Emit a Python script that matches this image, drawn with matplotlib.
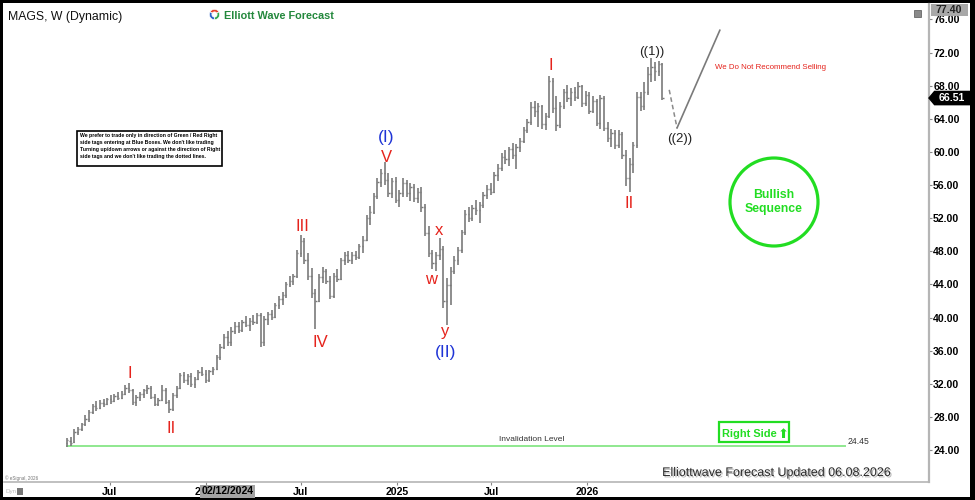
import numpy as np
import pandas as pd
import matplotlib
matplotlib.use('Agg')
import matplotlib.pyplot as plt
import matplotlib.dates as mdates
from matplotlib.patches import Rectangle, Ellipse, Polygon
import matplotlib.patheffects as pe

plt.rcParams['font.family'] = ['Liberation Sans', 'DejaVu Sans']

# ---------------- data ----------------
start_week = '2023-04-10'
opens = [24.8, 25.1, 25.0, 26.2, 26.5, 27.1, 27.8, 28.6, 29.3, 29.1,
         29.7, 29.6, 30.1, 29.9, 30.5, 30.3, 30.8, 31.5, 31.2, 29.8,
         30.4, 30.7, 31.2, 31.5, 30.4, 29.6, 30.0, 31.2, 29.8, 28.9,
         30.6, 31.5, 33.0, 32.5, 32.9, 32.0, 32.6, 33.4, 33.2, 32.4,
         33.5, 33.8, 35.2, 36.4, 37.6, 37.0, 38.4, 39.0, 38.5, 39.4,
         39.1, 39.6, 39.4, 40.3, 37.0, 39.8, 40.4, 40.1, 41.5, 42.2,
         42.7, 44.0, 44.4, 45.0, 47.8, 49.2, 47.0, 45.0, 42.9, 42.0,
         44.9, 45.6, 44.4, 42.6, 45.0, 44.7, 46.9, 47.5, 47.0, 47.6,
         47.3, 48.6, 49.4, 52.0, 52.8, 54.7, 56.4, 57.4, 56.6, 55.1,
         56.5, 54.2, 55.0, 56.3, 55.0, 55.8, 54.4, 55.2, 53.4, 50.2,
         47.8, 46.6, 47.5, 48.3, 42.0, 43.9, 45.6, 46.9, 48.1, 50.3,
         52.5, 52.0, 53.2, 53.0, 53.6, 54.8, 55.5, 55.2, 57.2, 58.1,
         59.4, 59.1, 60.3, 59.6, 60.6, 61.3, 62.7, 63.6, 65.4, 65.0,
         65.5, 63.4, 64.3, 68.6, 65.3, 63.2, 65.6, 67.2, 66.5, 67.3,
         66.6, 68.0, 65.9, 66.9, 65.0, 66.2, 63.5, 66.5, 62.9, 61.7,
         62.3, 60.8, 62.2, 59.6, 56.8, 58.6, 60.8, 66.6, 65.5, 67.2,
         69.4, 70.2, 69.8, 70.6]
highs = [25.4, 25.6, 26.5, 26.8, 27.3, 28.2, 28.8, 29.6, 29.9, 30.0,
         30.1, 30.3, 30.6, 30.8, 31.0, 31.1, 31.8, 32.1, 31.4, 30.6,
         31.0, 31.4, 31.9, 31.7, 30.7, 30.3, 31.9, 31.5, 30.0, 30.9,
         31.7, 33.3, 33.4, 33.2, 33.3, 32.8, 33.6, 34.0, 33.6, 33.7,
         34.0, 35.5, 36.8, 38.0, 38.4, 38.9, 39.4, 39.5, 39.7, 40.2,
         40.0, 40.3, 40.6, 40.6, 40.2, 40.7, 40.9, 41.8, 42.6, 43.1,
         44.3, 45.0, 45.3, 48.2, 50.0, 49.6, 47.8, 46.0, 43.5, 45.3,
         46.1, 45.9, 45.0, 45.4, 45.8, 47.2, 47.9, 48.0, 47.9, 48.0,
         48.9, 49.8, 52.4, 53.5, 55.1, 56.8, 57.9, 58.8, 57.4, 56.9,
         57.0, 55.4, 56.8, 56.6, 56.2, 56.1, 55.6, 55.8, 53.7, 51.0,
         48.2, 47.9, 49.6, 48.6, 44.8, 46.1, 47.4, 48.5, 50.6, 53.0,
         53.3, 53.6, 54.2, 53.9, 55.2, 56.0, 56.2, 57.6, 58.6, 59.9,
         60.2, 60.6, 61.1, 60.9, 61.7, 63.0, 64.0, 66.0, 66.1, 65.9,
         65.7, 64.7, 69.2, 68.9, 66.8, 66.0, 67.6, 68.1, 67.7, 67.9,
         68.5, 68.1, 67.4, 67.2, 66.8, 66.4, 66.9, 66.7, 63.6, 62.8,
         62.6, 62.7, 62.4, 60.2, 59.3, 61.2, 67.2, 67.3, 68.5, 70.3,
         71.3, 70.9, 71.0, 70.8]
lows = [24.4, 24.5, 24.8, 25.8, 26.3, 26.9, 27.4, 28.4, 28.7, 28.9,
        29.2, 29.4, 29.6, 29.8, 30.0, 30.1, 30.6, 30.9, 29.4, 29.3,
        29.9, 30.3, 30.8, 30.2, 29.3, 29.3, 29.9, 29.6, 28.5, 28.7,
        30.3, 31.4, 32.1, 31.8, 31.6, 31.5, 32.4, 32.9, 32.1, 32.2,
        33.0, 33.6, 34.9, 36.2, 36.6, 36.5, 38.0, 38.1, 38.3, 38.8,
        38.4, 39.1, 39.2, 36.4, 36.6, 39.1, 39.7, 39.9, 41.0, 41.5,
        42.4, 43.7, 43.9, 44.8, 47.3, 46.5, 44.5, 42.4, 38.6, 41.9,
        44.2, 44.0, 42.2, 42.3, 44.3, 44.5, 46.4, 46.6, 46.5, 46.9,
        47.1, 47.8, 49.2, 51.2, 52.5, 54.3, 55.8, 56.0, 54.6, 54.4,
        53.8, 53.4, 54.6, 54.5, 54.1, 53.9, 53.8, 52.8, 49.8, 47.3,
        45.8, 45.6, 46.9, 41.2, 39.1, 41.5, 45.2, 46.4, 47.8, 50.0,
        51.5, 51.6, 52.4, 51.4, 53.2, 54.3, 54.8, 55.0, 56.5, 57.7,
        58.6, 58.3, 59.2, 57.9, 60.0, 61.1, 62.3, 63.3, 64.2, 63.0,
        62.8, 62.7, 64.1, 64.7, 62.5, 62.9, 65.2, 66.0, 65.6, 66.1,
        66.4, 65.4, 65.6, 64.6, 64.7, 63.1, 62.8, 62.5, 61.2, 60.6,
        60.3, 60.5, 59.2, 55.9, 55.2, 57.4, 60.5, 64.9, 65.1, 66.9,
        68.4, 68.6, 69.2, 66.3]
closes = [25.2, 24.9, 26.2, 26.5, 27.1, 27.8, 28.6, 29.3, 29.1, 29.7,
          29.6, 30.1, 29.9, 30.5, 30.3, 30.8, 31.5, 31.2, 29.8, 30.4,
          30.7, 31.2, 31.5, 30.4, 29.6, 30.0, 31.2, 29.8, 28.9, 30.6,
          31.5, 33.0, 32.5, 32.9, 32.0, 32.6, 33.4, 33.2, 32.4, 33.5,
          33.8, 35.2, 36.4, 37.6, 37.0, 38.4, 39.0, 38.5, 39.4, 39.1,
          39.6, 39.4, 40.3, 37.0, 39.8, 40.4, 40.1, 41.5, 42.2, 42.7,
          44.0, 44.4, 45.0, 47.8, 49.2, 47.0, 45.0, 42.9, 42.0, 44.9,
          45.6, 44.4, 42.6, 45.0, 44.7, 46.9, 47.5, 47.0, 47.6, 47.3,
          48.6, 49.4, 52.0, 52.8, 54.7, 56.4, 57.4, 56.6, 55.1, 56.5,
          54.2, 55.0, 56.3, 55.0, 55.8, 54.4, 55.2, 53.4, 50.2, 47.8,
          46.6, 47.5, 48.3, 42.0, 43.9, 45.6, 46.9, 48.1, 50.3, 52.5,
          52.0, 53.2, 53.0, 53.6, 54.8, 55.5, 55.2, 57.2, 58.1, 59.4,
          59.1, 60.3, 59.6, 60.6, 61.3, 62.7, 63.6, 65.4, 65.0, 65.5,
          63.4, 64.3, 68.6, 65.3, 63.2, 65.6, 67.2, 66.5, 67.3, 66.6,
          68.0, 65.9, 66.9, 65.0, 66.2, 63.5, 66.5, 62.9, 61.7, 62.3,
          60.8, 62.2, 59.6, 56.8, 58.6, 60.8, 66.6, 65.5, 67.2, 69.4,
          70.2, 69.8, 70.6, 66.51]

last_price = 66.51
invalidation_level = 24.45
invalidation_span = ['2023-04-10', '2027-05-09']
proj_dashed_dates = ['2026-06-07', '2026-06-22']
proj_dashed_values = [67.5, 62.9]
proj_solid_dates = ['2026-06-22', '2026-09-12']
proj_solid_values = [62.9, 74.7]

ytick_values = [24, 28, 32, 36, 40, 44, 48, 52, 56, 60, 64, 68, 72, 76]
xtick_dates = ['2023-07-01', '2024-01-01', '2024-07-01', '2025-01-01', '2025-07-01', '2026-01-01']
xtick_labels = ['Jul', '2024', 'Jul', '2025', 'Jul', '2026']

# ---------------- figure ----------------
W, H = 975, 500
fig = plt.figure(figsize=(W / 100, H / 100), dpi=100)
fig.patch.set_facecolor('black')

def fx(px):
    return px / W

def fy(py):
    return 1 - py / H

fig.patches.append(Rectangle((fx(3), fy(497)), fx(970) - fx(3), fy(3) - fy(497),
                             transform=fig.transFigure, facecolor='white',
                             edgecolor='none', zorder=-10))

ax = fig.add_axes([fx(4), fy(482), fx(929) - fx(4), fy(4) - fy(482)])
ax.set_facecolor('white')
ax.set_zorder(1)

dates = pd.date_range(start_week, periods=len(closes), freq='7D')
dn = mdates.date2num(dates.to_pydatetime())
bar_color = '#7a7a7a'
tick_len = 2.4
ax.vlines(dn, lows, highs, color=bar_color, lw=1.2, zorder=3)
ax.hlines(opens, dn - tick_len, dn, color=bar_color, lw=1.0, zorder=3)
ax.hlines(closes, dn, dn + tick_len, color=bar_color, lw=1.0, zorder=3)

t0 = mdates.date2num(pd.Timestamp(start_week).to_pydatetime())
ax.set_xlim(t0 - 120.7, t0 + 1651.8)
ax.set_ylim(20.13, 77.87)

# invalidation line
inv_x = mdates.date2num(pd.to_datetime(invalidation_span).to_pydatetime())
ax.plot(inv_x, [invalidation_level, invalidation_level], color='#8fe88f', lw=1.4, zorder=2)

# projections
pdx = mdates.date2num(pd.to_datetime(proj_dashed_dates).to_pydatetime())
psx = mdates.date2num(pd.to_datetime(proj_solid_dates).to_pydatetime())
ax.plot(pdx, proj_dashed_values, color='#8a8a8a', lw=1.1, ls=(0, (3, 2)), zorder=3)
ax.plot(psx, proj_solid_values, color='#7a7a7a', lw=1.2, zorder=3)

# axes styling
for s in ['top', 'left']:
    ax.spines[s].set_visible(False)
ax.spines['right'].set_color('#b5b5b5')
ax.spines['right'].set_linewidth(1.6)
ax.spines['bottom'].set_color('#b5b5b5')
ax.spines['bottom'].set_linewidth(1.2)

ax.yaxis.tick_right()
ax.set_yticks(ytick_values)
ax.set_yticklabels(['%.2f' % v for v in ytick_values], fontsize=7.6, fontweight='bold')
ax.tick_params(axis='y', direction='out', length=2, width=0.8, colors='#888888',
               labelcolor='black', pad=1)
xt = mdates.date2num(pd.to_datetime(xtick_dates).to_pydatetime())
ax.set_xticks(xt)
ax.set_xticklabels(xtick_labels, fontsize=7.6, fontweight='bold')
ax.tick_params(axis='x', direction='out', length=2, width=0.8, colors='#888888',
               labelcolor='black', pad=1.5)

# crosshair date box on x-axis
ax.text(mdates.date2num(pd.Timestamp('2024-02-12').to_pydatetime()), -0.0195,
        '02/12/2024', transform=ax.get_xaxis_transform(), ha='center', va='center',
        fontsize=7.6, fontweight='bold', color='black',
        bbox=dict(boxstyle='square,pad=0.12', fc='#a3a3a3', ec='none'), clip_on=False, zorder=10)

# last price tag
ytr = ax.get_yaxis_transform()
hh = 0.8
tag = Polygon([(1.0, last_price), (1.006, last_price + hh), (1.045, last_price + hh),
               (1.045, last_price - hh), (1.006, last_price - hh)], closed=True,
              transform=ytr, facecolor='black', edgecolor='black', clip_on=False, zorder=6)
ax.add_patch(tag)
ax.text(1.025, last_price, '%.2f' % last_price, transform=ytr, ha='center', va='center',
        color='white', fontsize=7.6, fontweight='bold', clip_on=False, zorder=7)

# top gray price box
fig.patches.append(Rectangle((fx(931), fy(16)), fx(968) - fx(931), fy(4) - fy(16),
                             transform=fig.transFigure, facecolor='#a8a8a8', edgecolor='none', zorder=5))
fig.text(fx(949), fy(10), '77.40', ha='center', va='center', fontsize=7.6,
         fontweight='bold', color='#222222', zorder=6)
fig.patches.append(Rectangle((fx(914), fy(17)), fx(921) - fx(914), fy(10) - fy(17),
                             transform=fig.transFigure, facecolor='#8a8a8a', edgecolor='#555555',
                             lw=0.5, zorder=5))

# header texts
fig.text(fx(8), fy(20), 'MAGS, W (Dynamic)', fontsize=8.8, color='#111111', ha='left', va='baseline', zorder=6)
lax = fig.add_axes([fx(208), fy(21), fx(13), 13 / H])
lax.set_zorder(6)
lax.pie([1, 1, 1], colors=['#e5432f', '#2c63c8', '#33a852'], startangle=30,
        wedgeprops=dict(width=0.5, edgecolor='white', linewidth=0.5))
lax.set_aspect('equal')
lax.axis('off')
fig.text(fx(224), fy(19), 'Elliott Wave Forecast', fontsize=7.8, fontweight='bold',
         color='#23883c', ha='left', va='baseline', zorder=6)

# note box
fig.patches.append(Rectangle((fx(77), fy(166)), fx(222) - fx(77), fy(131) - fy(166),
                             transform=fig.transFigure, facecolor='white', edgecolor='black',
                             lw=1.2, zorder=5))
note = ("We prefer to trade only in direction of Green / Red Right\n"
        "side tags entering at Blue Boxes. We don't like trading\n"
        "Turning up/down arrows or against the direction of Right\n"
        "side tags and we don't like trading the dotted lines.")
fig.text(fx(80), fy(133.5), note, fontsize=3.7, fontweight='bold', color='black',
         ha='left', va='top', linespacing=1.45, zorder=6)

# wave labels (text, x px, baseline px, color, size)
red = '#e5231c'
blue = '#1f34d6'
wave_labels = [
    ('I', 130, 378, red, 12), ('II', 171, 433, red, 12), ('III', 302, 231, red, 12),
    ('IV', 320, 347, red, 12), ('V', 386, 162, red, 12), ('(I)', 386, 142, blue, 12.5),
    ('w', 431, 284, red, 12), ('x', 439, 235, red, 12), ('y', 445, 336, red, 12),
    ('(II)', 446, 357, blue, 12.5), ('I', 551, 70, red, 12), ('II', 629, 208, red, 12),
    ('((1))', 652, 55, '#222222', 9.5), ('((2))', 680, 142, '#222222', 9.5),
]
for t, x, y, c, s in wave_labels:
    fig.text(fx(x), fy(y), t, color=c, fontsize=s, ha='center', va='baseline', zorder=8)

fig.text(fx(715), fy(69), 'We Do Not Recommend Selling', color=red, fontsize=5.7,
         ha='left', va='baseline', zorder=6)

# bullish circle
green = '#22dd22'
fig.patches.append(Ellipse((fx(774), fy(202)), 88 / W, 88 / H, transform=fig.transFigure,
                           facecolor='none', edgecolor=green, lw=2.3, zorder=5))
fig.text(fx(774), fy(202), 'Bullish\nSequence', color=green, fontsize=8.8, fontweight='bold',
         ha='center', va='center', linespacing=1.15, zorder=6)

# right side box
fig.patches.append(Rectangle((fx(719), fy(442)), 70 / W, 20 / H, transform=fig.transFigure,
                             facecolor='white', edgecolor=green, lw=1.6, zorder=5))
fig.text(fx(722), fy(437), 'Right Side', color=green, fontsize=7.9, fontweight='bold',
         ha='left', va='baseline', zorder=6)
fig.text(fx(783), fy(437.5), '\u2B06', color=green, fontsize=9.5, family=['DejaVu Sans'],
         ha='center', va='baseline', zorder=6)

# invalidation texts
fig.text(fx(532), fy(441), 'Invalidation Level', fontsize=6, color='#333333', ha='center',
         va='baseline', zorder=6)
fig.text(fx(848), fy(444), '24.45', fontsize=6.2, color='#333333', ha='left', va='baseline', zorder=6)

# footer texts
fig.text(fx(777), fy(476), 'Elliottwave Forecast Updated 06.08.2026', fontsize=9, color='#2a2a2a',
         ha='center', va='baseline', zorder=6,
         path_effects=[pe.SimplePatchShadow(offset=(1, -1), shadow_rgbFace='#9a9a9a', alpha=0.7), pe.Normal()])
fig.text(fx(5), fy(480), '\u00a9 eSignal, 2026', fontsize=3.3, color='#777777', ha='left',
         va='baseline', zorder=6)
fig.text(fx(6), fy(493), 'Dyn', fontsize=4.5, color='#bbbbbb', ha='left', va='baseline', zorder=6)
fig.patches.append(Rectangle((fx(17), fy(495)), 6 / W, 7 / H, transform=fig.transFigure,
                             facecolor='#777777', edgecolor='none', zorder=5))

fig.savefig('out.png', dpi=100, facecolor=fig.get_facecolor())
